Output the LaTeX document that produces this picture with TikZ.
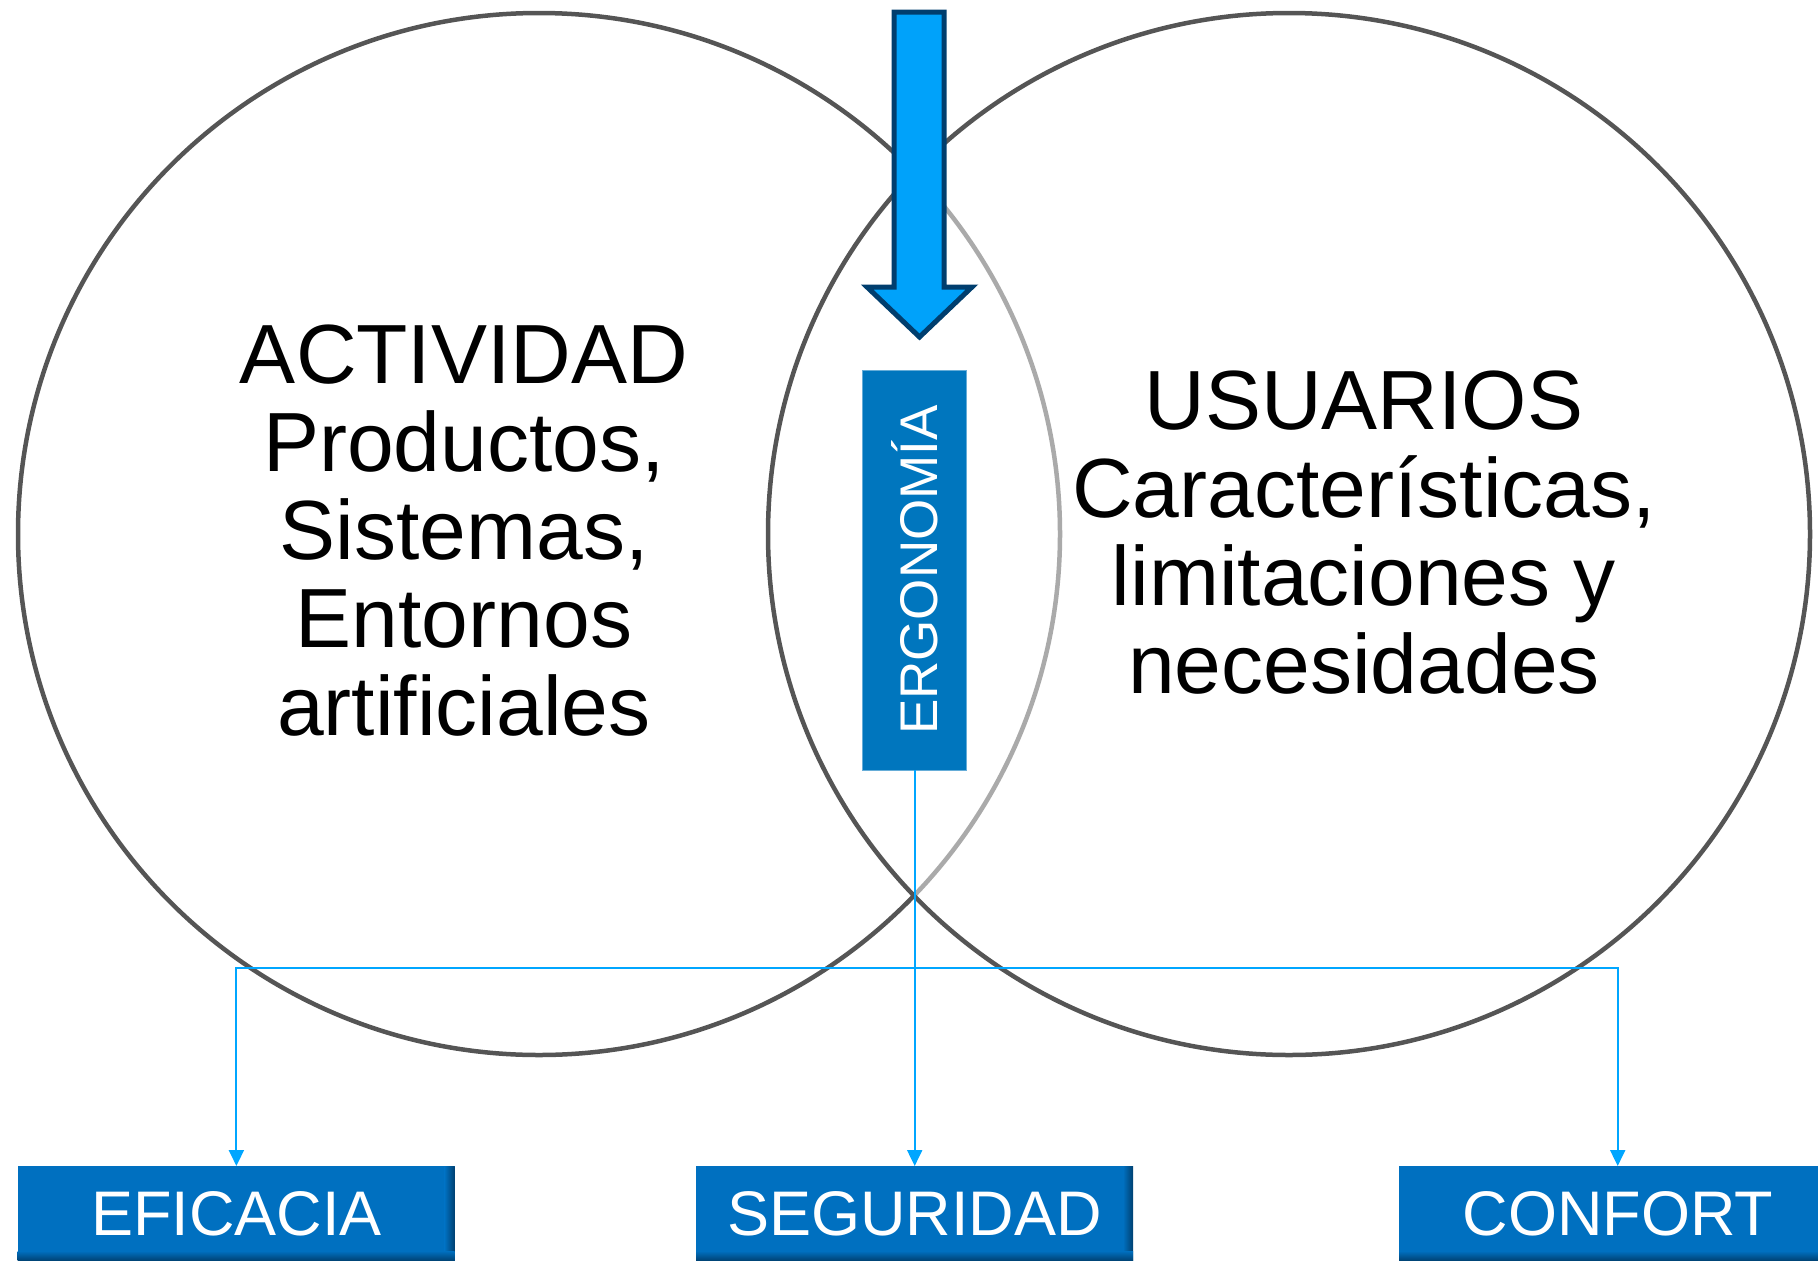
\documentclass[tikz,border=0pt]{standalone}
\usepackage{fontspec}
\setmainfont{Liberation Sans}
\usetikzlibrary{arrows.meta}
\definecolor{circgray}{RGB}{85,85,85}
\definecolor{connblue}{RGB}{0,166,255}
\definecolor{arrowfill}{RGB}{0,162,250}
\definecolor{arrowline}{RGB}{0,62,110}
\definecolor{ergofill}{RGB}{0,118,190}
\definecolor{boxfill}{RGB}{0,112,192}
\definecolor{boxdark}{RGB}{0,64,112}
\tikzset{
  venn/.style={draw=circgray, line width=4.5pt},
  bigtext/.style={font=\fontsize{84}{88}\selectfont, align=center, inner sep=0pt, text=black},
  outbox/.style={fill=boxfill, text=white, font=\fontsize{63}{70}\selectfont, minimum width=437pt, minimum height=95pt, inner sep=0pt, text depth=0pt, anchor=north west},
  conn/.style={draw=connblue, line width=2pt, -{Triangle[length=16pt,width=15pt]}},
}
\begin{document}
\begin{tikzpicture}[x=1pt,y=-1pt]
\useasboundingbox (0,0) rectangle (1818,1261);
% circles
\draw[venn] (539,534) circle[radius=521];
\draw[venn, fill=white, fill opacity=0.5] (1289,534) circle[radius=521];
% texts (base anchor = baseline of last line)
\node[bigtext, anchor=base] (act) at (464,735) {ACTIVIDAD\\Productos,\\Sistemas,\\Entornos\\artificiales};
\node[bigtext, anchor=base] (usu) at (1364,693) {USUARIOS\\Características,\\limitaciones y\\necesidades};
% big arrow
\draw[fill=arrowfill, draw=arrowline, line width=5pt, line join=miter]
  (894.2,12) -- (944.2,12) -- (944.2,287) -- (972,287) -- (919.5,337) -- (867,287) -- (894.2,287) -- cycle;
% ergonomia box
\node[fill=ergofill, draw=ergofill!60!white, line width=0.8pt, minimum width=104pt, minimum height=400pt, inner sep=0pt] (ergo) at (914.7,570) {};
\node[rotate=90, text=white, font=\fontsize{53}{60}\selectfont, inner sep=0pt] (ergotxt) at (ergo.center) {ERGONOMÍA};
% bottom boxes
\node[outbox] (efi) at (17.7,1166) {EFICACIA};
\node[outbox] (seg) at (696,1166) {SEGURIDAD};
\node[outbox] (con) at (1399,1166) {CONFORT};
\foreach \xx in {17.7, 696, 1399}{
  \shade[left color=boxfill, right color=boxdark] (\xx+427,1166) rectangle (\xx+437,1261);
  \shade[top color=boxfill, bottom color=boxdark] (\xx,1251) rectangle (\xx+437,1261);
}
% connectors
\coordinate (j) at (914.7,968);
\draw[conn] (ergo.south) -- (seg.north);
\draw[conn] (j) -| (efi.north);
\draw[conn] (j) -| (con.north);
\end{tikzpicture}
\end{document}
